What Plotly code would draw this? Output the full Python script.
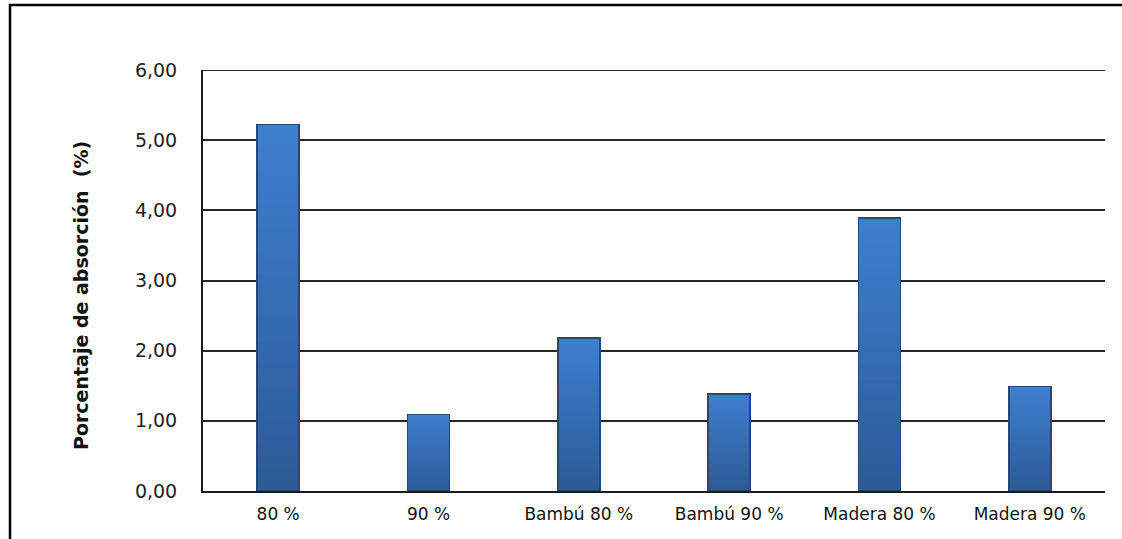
import plotly.graph_objects as go

# Absorption percentage per mix
categories = ["80 %", "90 %", "Bambú 80 %", "Bambú 90 %", "Madera 80 %", "Madera 90 %"]
absorption = [5.22, 1.09, 2.18, 1.38, 3.89, 1.49]
y_ticks = [0, 1, 2, 3, 4, 5, 6]

W, H = 1122, 539
L, R, T, B = 203, 17, 70, 48
BAR_W = 0.28
N_SEG = 32

# vertical gradient: dark at the base, lighter at the top
c_bot = (44, 90, 150)
c_top = (62, 127, 208)


def mix(t):
    return "rgb(%d,%d,%d)" % tuple(round(a + (b - a) * t) for a, b in zip(c_bot, c_top))


fig = go.Figure()
for k in range(N_SEG):
    fig.add_trace(go.Bar(
        x=categories,
        y=[v / N_SEG for v in absorption],
        width=BAR_W,
        marker=dict(color=mix((k + 0.5) / N_SEG), line=dict(width=0)),
        showlegend=False,
        hoverinfo="skip",
    ))

# outline of each column on an overlaid axis so it is not stacked
fig.add_trace(go.Bar(
    x=categories,
    y=absorption,
    width=BAR_W,
    xaxis="x2",
    marker=dict(color="rgba(0,0,0,0)", line=dict(color="#23477f", width=1.5)),
    showlegend=False,
    hoverinfo="skip",
))

pw = W - L - R
ph = H - T - B


def px_x(p):
    return (p - L) / pw


def px_y(p):
    return (H - B - p) / ph


fig.update_layout(
    width=W,
    height=H,
    margin=dict(l=L, r=R, t=T, b=B),
    paper_bgcolor="white",
    plot_bgcolor="white",
    barmode="stack",
    separators=",.",
    font=dict(family="DejaVu Sans", color="#1a1a1a"),
    xaxis=dict(
        type="category",
        showgrid=False,
        showline=True,
        linecolor="#1a1a1a",
        linewidth=2,
        ticks="",
        ticklabelstandoff=7,
        tickfont=dict(size=17, color="#111111"),
        zeroline=False,
    ),
    xaxis2=dict(overlaying="x", matches="x", visible=False, type="category"),
    yaxis=dict(
        range=[0, 6],
        tickvals=y_ticks,
        tickformat=".2f",
        showgrid=True,
        gridcolor="#262626",
        gridwidth=2,
        showline=True,
        linecolor="#1a1a1a",
        linewidth=2,
        ticks="",
        ticklabelstandoff=20,
        tickfont=dict(size=19, color="#222222"),
        zeroline=False,
    ),
    shapes=[
        dict(type="rect", xref="paper", yref="paper",
             x0=px_x(10), x1=px_x(1130), y0=px_y(548), y1=px_y(5),
             line=dict(color="black", width=2.5), fillcolor="rgba(0,0,0,0)",
             layer="above"),
        dict(type="line", xref="paper", yref="y", x0=0, x1=1, y0=6, y1=6,
             line=dict(color="#262626", width=2)),
    ],
    annotations=[
        dict(text="<b>Porcentaje de absorción  (%)</b>", xref="paper", yref="paper",
             x=px_x(81), y=px_y(296), textangle=-90, showarrow=False,
             xanchor="center", yanchor="middle",
             font=dict(family="DejaVu Sans", size=19, color="#111111")),
    ],
)

fig.write_html("out.html")
